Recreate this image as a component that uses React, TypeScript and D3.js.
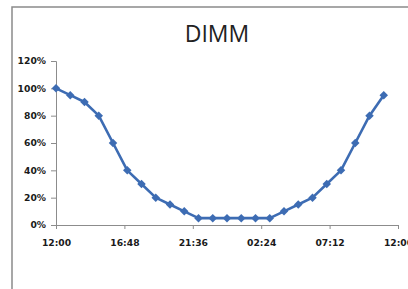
import React, { useEffect } from "react";
import * as d3 from "d3";

const WIDTH = 408;
const HEIGHT = 289;

// hourly readings, 12:00 through 11:00 next day
const HOURS = d3.range(0, 24);
const VALUES = [100, 95, 90, 80, 60, 40, 30, 20, 15, 10, 5, 5, 5, 5, 5, 5, 10, 15, 20, 30, 40, 60, 80, 95];
const X_TICKS = [0, 4.8, 9.6, 14.4, 19.2, 24];
const X_TICK_LABELS = ["12:00", "16:48", "21:36", "02:24", "07:12", "12:00"];
const Y_TICKS = [0, 20, 40, 60, 80, 100, 120];

const LINE_COLOUR = "#3d6cb3";
const AXIS_COLOUR = "#8c8c8c";

const App = () => {
  const svgRef = React.useRef(null);

  useEffect(() => {
    const svg = d3.select(svgRef.current);
    svg.selectAll("*").remove();

    // chart area border, runs off the right/bottom of the picture
    svg.append("rect")
      .attr("x", 12)
      .attr("y", 7)
      .attr("width", 600)
      .attr("height", 600)
      .style("fill", "white")
      .style("stroke", "#8a8a8a")
      .style("stroke-width", 1.5);

    svg.append("text")
      .attr("x", 217)
      .attr("y", 42)
      .attr("text-anchor", "middle")
      .attr("style", "font-family: 'Open Sans', sans-serif; font-size: 23px; fill: #222;")
      .text("DIMM");

    const x = d3.scaleLinear().domain([0, 24]).range([56, 398]);
    const y = d3.scaleLinear().domain([0, 120]).range([225, 61]);

    const labelStyle = "font-family: 'DejaVu Sans', sans-serif; font-size: 9.2px; font-weight: bold; fill: #1a1a1a;";

    // y axis
    const yAxis = svg.append("g")
      .attr("transform", `translate(${x(0)},0)`)
      .call(d3.axisLeft(y).tickValues(Y_TICKS).tickSize(5).tickPadding(5).tickFormat(d => `${d}%`));
    yAxis.select(".domain").attr("stroke", AXIS_COLOUR);
    yAxis.selectAll("line").attr("stroke", AXIS_COLOUR);
    yAxis.selectAll("text").attr("style", labelStyle);

    // x axis
    const xAxis = svg.append("g")
      .attr("transform", `translate(0,${y(0)})`)
      .call(d3.axisBottom(x).tickValues(X_TICKS).tickSize(4).tickPadding(10).tickFormat((d, i) => X_TICK_LABELS[i]));
    xAxis.select(".domain").attr("stroke", AXIS_COLOUR);
    xAxis.selectAll("line").attr("stroke", AXIS_COLOUR);
    xAxis.selectAll("text").attr("style", labelStyle);

    const data = HOURS.map((h, i) => ({ h, v: VALUES[i] }));

    const line = d3.line()
      .x(d => x(d.h))
      .y(d => y(d.v));

    svg.append("path")
      .datum(data)
      .attr("d", line)
      .attr("fill", "none")
      .attr("stroke", LINE_COLOUR)
      .attr("stroke-width", 2.6)
      .attr("stroke-linejoin", "round");

    // diamond markers: rotated squares
    svg.append("g")
      .selectAll("path")
      .data(data)
      .join("path")
      .attr("d", d3.symbol(d3.symbolSquare, 36))
      .attr("transform", d => `translate(${x(d.h)},${y(d.v)}) rotate(45)`)
      .attr("fill", LINE_COLOUR);
  }, []);

  return (
    <svg
      ref={svgRef}
      width={WIDTH}
      height={HEIGHT}
      style={{ position: "absolute", left: 0, top: 0, background: "white" }}
    />
  );
};

export default App;
